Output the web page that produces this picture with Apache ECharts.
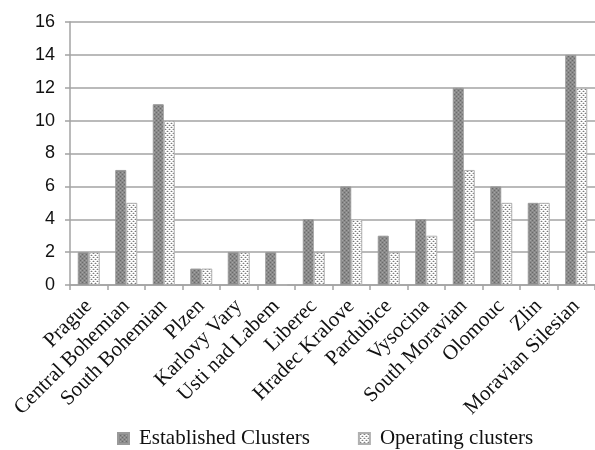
<!DOCTYPE html>
<html>
<head>
<meta charset="utf-8">
<script src="https://cdn.jsdelivr.net/npm/echarts@6/dist/echarts.min.js"></script>
<style>
  html, body { margin: 0; padding: 0; background: #ffffff; }
  #chart { width: 595px; height: 450px; }
</style>
</head>
<body>
<div id="chart"></div>
<script>
// Cluster counts per Czech region
const regions = [
  'Prague', 'Central Bohemian', 'South Bohemian', 'Plzen', 'Karlovy Vary',
  'Usti nad Labem', 'Liberec', 'Hradec Kralove', 'Pardubice', 'Vysocina',
  'South Moravian', 'Olomouc', 'Zlin', 'Moravian Silesian'
];
const established = [2, 7, 11, 1, 2, 2, 4, 6, 3, 4, 12, 6, 5, 14];
const operating   = [2, 5, 10, 1, 2, 0, 2, 4, 2, 3, 7, 5, 5, 12];
const seriesNames = ['Established Clusters', 'Operating clusters'];
const yMax = 16;
const yStep = 2;

// Small repeating tiles used as bar fills
function makeTile(size, bg, dots) {
  const c = document.createElement('canvas');
  c.width = size; c.height = size;
  const g = c.getContext('2d');
  g.fillStyle = bg;
  g.fillRect(0, 0, size, size);
  dots.forEach(d => {
    g.fillStyle = d[2];
    g.fillRect(d[0], d[1], 1, 1);
  });
  return c;
}

const darkTile = makeTile(4, '#8a8a8a', [
  [0, 0, '#6a6a6a'], [2, 2, '#6a6a6a'],
  [2, 0, '#a4a4a4'], [0, 2, '#a4a4a4']
]);
const lightTile = makeTile(4, '#ffffff', [
  [1, 1, '#7a7a7a'], [3, 3, '#7a7a7a'],
  [0, 1, '#cfcfcf'], [2, 1, '#cfcfcf'], [2, 3, '#cfcfcf'], [0, 3, '#cfcfcf'],
  [1, 0, '#e0e0e0'], [3, 2, '#e0e0e0']
]);

const axisGray = '#a3a3a3';
const chart = echarts.init(document.getElementById('chart'), null, { renderer: 'canvas' });

chart.setOption({
  animation: false,
  backgroundColor: '#ffffff',
  grid: { left: 70, top: 22, width: 528, bottom: 165, containLabel: false },
  legend: {
    left: 117,
    top: 428,
    padding: 0,
    itemWidth: 11,
    itemHeight: 11,
    itemGap: 48,
    icon: 'rect',
    textStyle: {
      fontFamily: 'Liberation Serif',
      fontSize: 21,
      color: '#111111',
      padding: [0, 0, 0, 5]
    },
    data: seriesNames
  },
  xAxis: {
    type: 'category',
    data: regions,
    axisLine: { lineStyle: { color: axisGray, width: 1.5 } },
    axisTick: { show: true, length: 5, lineStyle: { color: axisGray, width: 1.5 } },
    axisLabel: {
      interval: 0,
      rotate: 45,
      margin: 18,
      fontFamily: 'Liberation Serif',
      fontSize: 21,
      color: '#111111'
    },
    splitLine: { show: false }
  },
  yAxis: {
    type: 'value',
    min: 0,
    max: yMax,
    interval: yStep,
    axisLine: { show: true, lineStyle: { color: axisGray, width: 1.5 } },
    axisTick: { show: true, length: 5, lineStyle: { color: axisGray, width: 1.5 } },
    axisLabel: {
      margin: 15,
      fontFamily: 'Liberation Sans',
      fontSize: 18,
      color: '#111111'
    },
    splitLine: { show: true, lineStyle: { color: axisGray, width: 1.5 } }
  },
  series: [
    {
      name: seriesNames[0],
      type: 'bar',
      data: established,
      barWidth: 11,
      barGap: '0%',
      itemStyle: {
        color: { image: darkTile, repeat: 'repeat' },
        borderColor: '#9a9a9a',
        borderWidth: 1
      }
    },
    {
      name: seriesNames[1],
      type: 'bar',
      data: operating,
      barWidth: 11,
      barGap: '0%',
      itemStyle: {
        color: { image: lightTile, repeat: 'repeat' },
        borderColor: '#b0b0b0',
        borderWidth: 1
      }
    }
  ]
});
</script>
</body>
</html>
